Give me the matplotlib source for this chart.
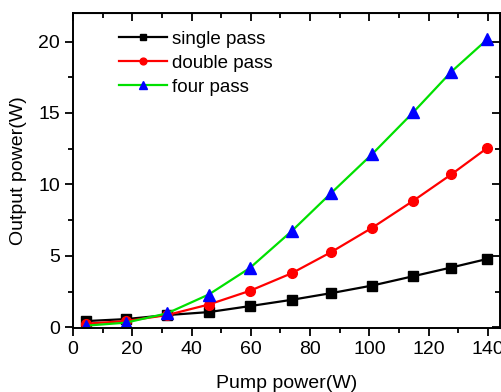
import matplotlib
matplotlib.use('Agg')
import matplotlib.pyplot as plt
from matplotlib.ticker import MultipleLocator

plt.rcParams['font.family'] = ['Liberation Sans', 'DejaVu Sans']

pump = [4.3, 17.8, 31.7, 45.8, 59.7, 73.8, 87.2, 101, 114.8, 127.6, 139.8]
single_pass = [0.44, 0.58, 0.86, 1.07, 1.49, 1.93, 2.4, 2.93, 3.58, 4.19, 4.79]
double_pass = [0.26, 0.44, 0.86, 1.6, 2.56, 3.79, 5.28, 6.98, 8.86, 10.7, 12.56]
four_pass = [0.12, 0.33, 0.98, 2.3, 4.16, 6.74, 9.42, 12.14, 15.05, 17.88, 20.16]

fig = plt.figure(figsize=(5.01, 3.92), dpi=100)
ax = fig.add_axes([0.1457, 0.163, 0.852, 0.804])

ax.plot(pump, single_pass, color='black', lw=1.6, marker='s', ms=6.5,
        label='single pass')
ax.plot(pump, double_pass, color='red', lw=1.6, marker='o', ms=7,
        label='double pass')
ax.plot(pump, four_pass, color='#00e000', lw=1.6, marker='^', ms=8,
        mfc='blue', mec='blue', label='four pass')

ax.set_xlim(0, 144)
ax.set_ylim(-0.05, 22)
ax.xaxis.set_major_locator(MultipleLocator(20))
ax.xaxis.set_minor_locator(MultipleLocator(10))
ax.yaxis.set_major_locator(MultipleLocator(5))
ax.yaxis.set_minor_locator(MultipleLocator(2.5))

ax.tick_params(which='both', direction='out', labelsize=14, width=1.3)
ax.tick_params(which='major', length=6)
ax.tick_params(which='minor', length=3.5)
for s in ax.spines.values():
    s.set_linewidth(1.4)

# mirrored inward ticks on top and right
top = ax.secondary_xaxis('top')
top.xaxis.set_major_locator(MultipleLocator(20))
top.xaxis.set_minor_locator(MultipleLocator(10))
top.tick_params(which='both', direction='in', labeltop=False, width=1.3)
top.tick_params(which='major', length=6)
top.tick_params(which='minor', length=3.5)
right = ax.secondary_yaxis('right')
right.yaxis.set_major_locator(MultipleLocator(5))
right.yaxis.set_minor_locator(MultipleLocator(2.5))
right.tick_params(which='both', direction='in', labelright=False, width=1.3)
right.tick_params(which='major', length=6)
right.tick_params(which='minor', length=3.5)

ax.set_xlabel('Pump power(W)', fontsize=14, labelpad=12)
ax.set_ylabel('Output power(W)', fontsize=14, labelpad=8)

ax.legend(loc='upper left', bbox_to_anchor=(0.076, 0.985), frameon=False,
          fontsize=13.5, handlelength=2.6, handletextpad=0.25,
          labelspacing=0.36, borderaxespad=0.3, markerscale=0.7)

fig.savefig('out.png', dpi=100)
